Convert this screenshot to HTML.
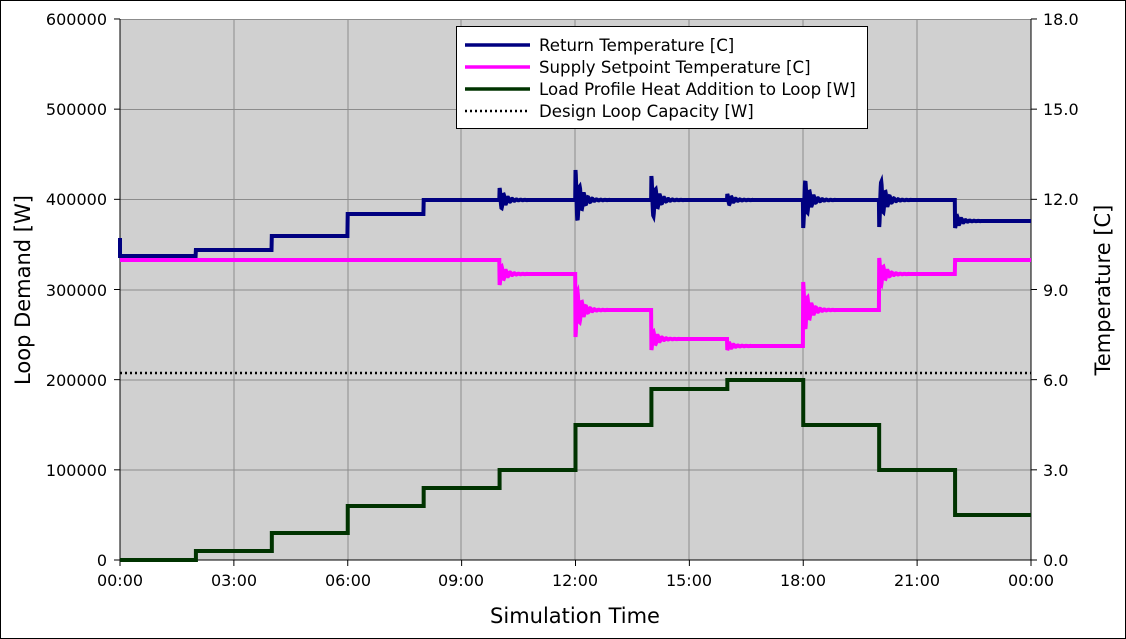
<!DOCTYPE html>
<html><head><meta charset="utf-8"><style>
body{margin:0;background:#fff}
svg{display:block;font-family:"DejaVu Sans","Liberation Sans",sans-serif}
</style></head><body>
<svg id="s" width="1126" height="639" viewBox="0 0 1126 639">
<rect x="0.5" y="0.5" width="1125" height="638" fill="#fff" stroke="#000"/>
<rect x="120" y="19" width="911" height="541" fill="#d0d0d0"/>
<g stroke="#8c8c8c" stroke-width="1">
<line x1="234" y1="19" x2="234" y2="560"/><line x1="348" y1="19" x2="348" y2="560"/>
<line x1="461" y1="19" x2="461" y2="560"/><line x1="575" y1="19" x2="575" y2="560"/>
<line x1="689" y1="19" x2="689" y2="560"/><line x1="803" y1="19" x2="803" y2="560"/>
<line x1="917" y1="19" x2="917" y2="560"/>
<line x1="120" y1="109.5" x2="1031" y2="109.5"/><line x1="120" y1="199.5" x2="1031" y2="199.5"/>
<line x1="120" y1="290" x2="1031" y2="290"/><line x1="120" y1="380" x2="1031" y2="380"/>
<line x1="120" y1="470" x2="1031" y2="470"/>
<line x1="120" y1="19.5" x2="1031" y2="19.5"/>
</g>
<g stroke="#000" stroke-width="1">
<line x1="120" y1="19" x2="120" y2="560"/><line x1="1031" y1="19" x2="1031" y2="560"/>
<line x1="120" y1="560" x2="1031" y2="560"/>
</g>
<g id="ticks" stroke="#000"></g>
<g font-size="16" fill="#000" text-anchor="end">
<text x="107" y="25">600000</text><text x="107" y="115">500000</text><text x="107" y="205">400000</text>
<text x="107" y="296">300000</text><text x="107" y="386">200000</text><text x="107" y="476">100000</text>
<text x="107" y="566">0</text>
</g>
<g font-size="16" fill="#000" text-anchor="start">
<text x="1043" y="25">18.0</text><text x="1043" y="115">15.0</text><text x="1043" y="205">12.0</text>
<text x="1043" y="296">9.0</text><text x="1043" y="386">6.0</text><text x="1043" y="476">3.0</text>
<text x="1043" y="566">0.0</text>
</g>
<g font-size="16" fill="#000" text-anchor="middle">
<text x="120" y="586">00:00</text><text x="234" y="586">03:00</text><text x="348" y="586">06:00</text>
<text x="461" y="586">09:00</text><text x="575" y="586">12:00</text><text x="689" y="586">15:00</text>
<text x="803" y="586">18:00</text><text x="917" y="586">21:00</text><text x="1031" y="586">00:00</text>
</g>
<text x="575" y="623" font-size="21" text-anchor="middle">Simulation Time</text>
<text transform="translate(30,290) rotate(-90)" font-size="21" text-anchor="middle">Loop Demand [W]</text>
<text transform="translate(1110,290) rotate(-90)" font-size="21" text-anchor="middle">Temperature [C]</text>
<line x1="120" y1="373" x2="1031" y2="373" stroke="#000" stroke-width="2.5" stroke-dasharray="2,3"/>
<path id="load" fill="none" stroke="#003300" stroke-width="4"/>
<path id="sup" fill="none" stroke="#ff00ff" stroke-width="4"/>
<path id="ret" fill="none" stroke="#000080" stroke-width="4"/>
<rect x="456.5" y="26.5" width="411" height="102" fill="#fff" stroke="#000"/>
<line x1="465" y1="45" x2="530" y2="45" stroke="#000080" stroke-width="3.5"/>
<line x1="465" y1="67" x2="530" y2="67" stroke="#ff00ff" stroke-width="3.5"/>
<line x1="465" y1="89" x2="530" y2="89" stroke="#003300" stroke-width="3.5"/>
<line x1="465" y1="111" x2="530" y2="111" stroke="#000" stroke-width="2.5" stroke-dasharray="2,3"/>
<g font-size="16.6" fill="#000">
<text x="539" y="51">Return Temperature [C]</text>
<text x="539" y="73">Supply Setpoint Temperature [C]</text>
<text x="539" y="95">Load Profile Heat Addition to Loop [W]</text>
<text x="539" y="117">Design Loop Capacity [W]</text>
</g>
</svg>
<script>
var X=function(h){return 120+h*37.958};
var t=document.getElementById('ticks'),s='';
for(var i=0;i<=8;i++){var x=X(i*3);s+='<line x1="'+x+'" y1="560" x2="'+x+'" y2="566"/>';}
for(var j=0;j<=6;j++){var y=560-j*90.17;s+='<line x1="114" y1="'+y+'" x2="120" y2="'+y+'"/><line x1="1031" y1="'+y+'" x2="1037" y2="'+y+'"/>';}
t.innerHTML=s;
function build(steps,osc){
 var d='',N=3000;
 for(var k=0;k<=N;k++){
  var h=24*k/N,v=steps[0][1];
  for(var i=0;i<steps.length;i++) if(h>=steps[i][0]) v=steps[i][1];
  for(var o=0;o<osc.length;o++){var dt=h-osc[o][0];
   if(dt>=0&&dt<1.0) v+=osc[o][1]*Math.exp(-dt/0.14)*Math.cos(dt*2*Math.PI*9);}
  d+=(k?'L':'M')+X(h).toFixed(1)+' '+v.toFixed(1);
 }
 return d;
}
function stepPath(steps){
 var d='M'+X(0)+' '+steps[0][1];
 for(var i=1;i<steps.length;i++){d+='L'+X(steps[i][0])+' '+steps[i-1][1]+'L'+X(steps[i][0])+' '+steps[i][1];}
 return d+'L'+X(24)+' '+steps[steps.length-1][1];
}
document.getElementById('load').setAttribute('d',stepPath([[0,560],[2,551],[4,533],[6,506],[8,488],[10,470],[12,425],[14,389],[16,380],[18,425],[20,470],[22,515]]));
document.getElementById('ret').setAttribute('d','M120 238'+build([[0,256],[2,250],[4,236],[6,214],[8,200],[22,221]],
 [[10,-12],[12,-30],[14,-24],[16,-6],[18,28],[20,27],[22,7]]).replace(/^M/,'L'));
document.getElementById('sup').setAttribute('d',build([[0,260],[10,274],[12,310],[14,339],[16,346],[18,310],[20,274],[22,260]],
 [[10,11],[12,27],[14,11],[16,4],[18,-28],[20,-16]]));
</script>
</body></html>
